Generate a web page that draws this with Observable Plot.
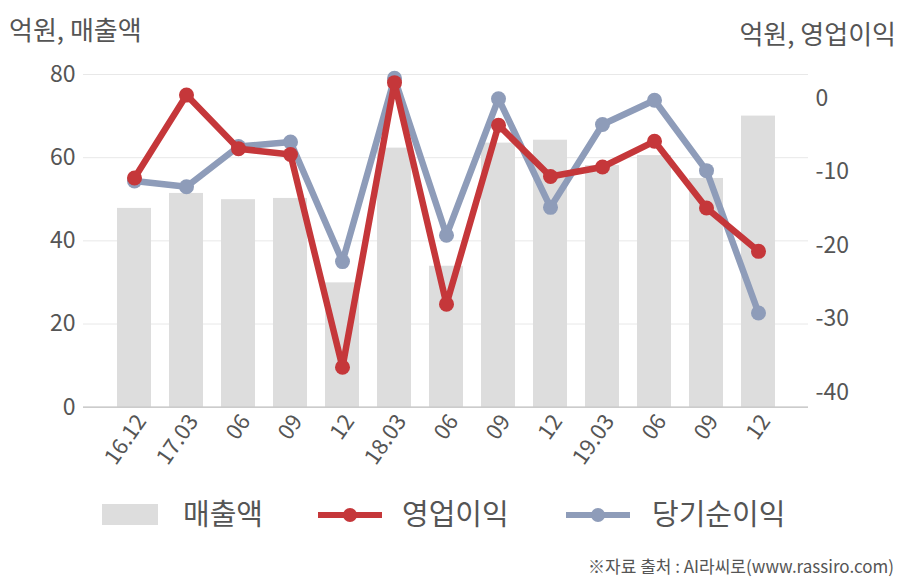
<!DOCTYPE html>
<html>
<head>
<meta charset="utf-8">
<script src="https://cdn.jsdelivr.net/npm/d3@7"></script>
<script src="https://cdn.jsdelivr.net/npm/@observablehq/plot@0.6"></script>
<style>
  html, body { margin: 0; padding: 0; background: #fff; }
  body { width: 908px; height: 580px; position: relative; overflow: hidden;
         font-family: "Noto Sans CJK KR", "Noto Sans", sans-serif; color: #555; }
  .t { position: absolute; white-space: nowrap; }
  #chart { position: absolute; left: 0; top: 0; }
  .leg { position: absolute; font-size: 29px; color: #555; line-height: 1; }
</style>
</head>
<body>
<div class="t" style="left:9px; top:10px; font-size:26px;">억원, 매출액</div>
<div class="t" style="right:12px; top:14px; font-size:26px;">억원, 영업이익</div>
<div id="chart"></div>
<div id="legend"></div>
<div class="t" style="right:14px; top:553px; font-size:17px; color:#555;">※자료 출처 : AI라씨로(www.rassiro.com)</div>
<script>
// ---- data ----
const quarters = ["16.12","17.03","06","09","12","18.03","06 ","09 ","12 ","19.03","06  ","09  ","12  "];
const tickLabels = ["16.12","17.03","06","09","12","18.03","06","09","12","19.03","06","09","12"];
const sales = [47.8, 51.4, 49.9, 50.2, 29.9, 62.3, 33.9, 63.5, 64.2, 58.1, 60.5, 55.0, 70.0];
const opProfit = [-10.8, 0.5, -6.8, -7.6, -36.6, 2.2, -28.0, -3.6, -10.6, -9.3, -5.8, -14.9, -20.8];
const netProfit = [-11.2, -12.0, -6.5, -5.9, -22.2, 2.8, -18.6, 0.0, -14.8, -3.5, -0.2, -9.8, -29.2];
const leftTicks = [0, 20, 40, 60, 80];
const rightTicks = [-40, -30, -20, -10, 0];
const seriesNames = ["매출액", "영업이익", "당기순이익"];

// ---- colors ----
const barColor = "#dddddd";
const redColor = "#c5373a";
const blueColor = "#8e9cb9";

// right axis (영업이익) mapping onto left scale [0,80]
const R0 = -42.05, R1 = 3.31, L1 = 80;
const r2l = v => (v - R0) / (R1 - R0) * L1;
const l2r = v => v / L1 * (R1 - R0) + R0;

const rows = quarters.map((q, i) => ({q, sales: sales[i], op: opProfit[i], net: netProfit[i]}));
const labelOf = new Map(quarters.map((q, i) => [q, tickLabels[i]]));

const H = 490;
const chart = Plot.plot({
  width: 908,
  height: H,
  marginTop: 74,
  marginBottom: H - 406.7,
  marginLeft: 83,
  marginRight: 100,
  style: {fontFamily: "'Noto Sans CJK KR', 'Noto Sans', sans-serif", color: "#555", background: "transparent"},
  x: {type: "band", domain: quarters, paddingInner: 0.35, paddingOuter: 0.625, axis: null},
  y: {domain: [0, 80], axis: null},
  marks: [
    Plot.gridY(leftTicks.filter(d => d > 0), {stroke: "#e8e8e8", strokeOpacity: 1, strokeWidth: 1}),
    Plot.barY(rows, {x: "q", y: "sales", fill: barColor}),
    Plot.ruleY([0], {stroke: "#bbbbbb", strokeWidth: 1.2}),
    Plot.axisY(leftTicks, {anchor: "left", tickSize: 0, tickPadding: 8, fontSize: 23, fill: "#555", label: null}),
    Plot.axisY(rightTicks.map(r2l), {anchor: "right", tickSize: 0, tickPadding: 7, fontSize: 23, fill: "#555", label: null,
      tickFormat: d => String(Math.round(l2r(d)))}),
    Plot.axisX({anchor: "bottom", tickSize: 0, tickPadding: 10, tickRotate: -55, fontSize: 22, fill: "#555", label: null,
      dx: 7, tickFormat: d => labelOf.get(d)}),
    Plot.line(rows, {x: "q", y: d => r2l(d.net), stroke: blueColor, strokeWidth: 6.5, strokeLinejoin: "round"}),
    Plot.dot(rows, {x: "q", y: d => r2l(d.net), fill: blueColor, r: 7.5}),
    Plot.line(rows, {x: "q", y: d => r2l(d.op), stroke: redColor, strokeWidth: 6.5, strokeLinejoin: "round"}),
    Plot.dot(rows, {x: "q", y: d => r2l(d.op), fill: redColor, r: 7.5})
  ]
});
document.getElementById("chart").appendChild(chart);

// ---- legend ----
const legend = document.getElementById("legend");
const legItems = [
  {name: seriesNames[0], type: "rect", color: barColor, sx: 102, tx: 183},
  {name: seriesNames[1], type: "line", color: redColor, sx: 318, tx: 402},
  {name: seriesNames[2], type: "line", color: blueColor, sx: 566, tx: 652}
];
for (const it of legItems) {
  const sw = document.createElementNS("http://www.w3.org/2000/svg", "svg");
  sw.setAttribute("width", 66); sw.setAttribute("height", 24);
  sw.style.position = "absolute"; sw.style.left = it.sx + "px"; sw.style.top = "503px";
  if (it.type === "rect") {
    sw.innerHTML = `<rect x="0" y="1" width="56" height="21" fill="${it.color}"/>`;
  } else {
    sw.innerHTML = `<line x1="0" x2="64" y1="12" y2="12" stroke="${it.color}" stroke-width="6"/><circle cx="32" cy="12" r="7" fill="${it.color}"/>`;
  }
  legend.appendChild(sw);
  const tx = document.createElement("div");
  tx.className = "leg"; tx.textContent = it.name;
  tx.style.left = it.tx + "px"; tx.style.top = "498px";
  legend.appendChild(tx);
}
</script>
</body>
</html>
